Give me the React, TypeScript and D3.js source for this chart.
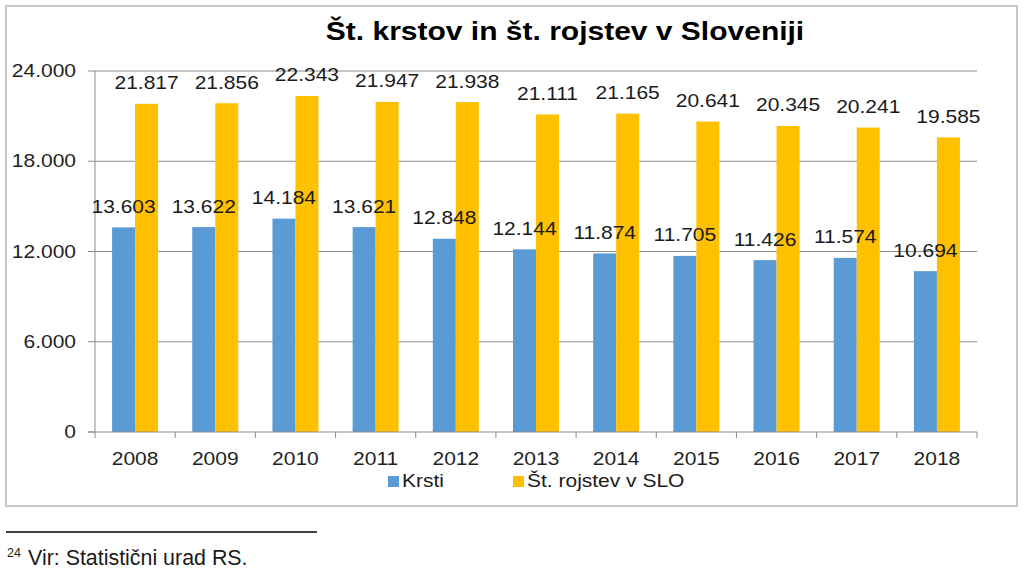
import React from "react";
import * as d3 from "d3";

const years = ["2008", "2009", "2010", "2011", "2012", "2013", "2014", "2015", "2016", "2017", "2018"];
const krsti = [13603, 13622, 14184, 13621, 12848, 12144, 11874, 11705, 11426, 11574, 10694];
const rojstva = [21817, 21856, 22343, 21947, 21938, 21111, 21165, 20641, 20345, 20241, 19585];
const seriesNames = ["Krsti", "Št. rojstev v SLO"];
const seriesColors = ["#5b9bd5", "#ffc000"];
const yTicks = [0, 6000, 12000, 18000, 24000];

const W = 1024;
const H = 581;
const FONT = "'Liberation Sans', Arial, sans-serif";
const SX = 1.2;

const fmt = (v: number) => (v === 0 ? "0" : d3.format(",")(v).replace(/,/g, "."));

function T(props: { x: number; y: number; size: number; anchor?: string; weight?: string; fill?: string; children: React.ReactNode; sx?: number }) {
  const { x, y, size, anchor = "start", weight = "normal", fill = "#1a1a1a", children, sx = SX } = props;
  return (
    <text
      transform={`translate(${x},${y}) scale(${sx},1)`}
      fontFamily={FONT}
      fontSize={size}
      fontWeight={weight}
      textAnchor={anchor as any}
      fill={fill}
    >
      {children}
    </text>
  );
}

export default function App() {
  const left = 95;
  const right = 977;
  const top = 71;
  const bottom = 432;

  const x0 = d3.scaleBand<string>().domain(years).range([left, right]).paddingInner(0.4263).paddingOuter(0.2131);
  const x1 = d3.scaleBand<number>().domain([0, 1]).range([0, x0.bandwidth()]);
  const y = d3.scaleLinear().domain([0, 24000]).range([bottom, top]);
  const step = x0.step();

  const data = [krsti, rojstva];

  return (
    <svg width={W} height={H} style={{ position: "absolute", left: 0, top: 0, display: "block", background: "#fff" }}>
      <rect x={0} y={0} width={W} height={H} fill="#fff" />
      <rect x={6} y={6} width={1011} height={500} fill="#fff" stroke="#c6c6c6" strokeWidth={2} />

      <T x={565} y={40} size={25} weight="bold" anchor="middle" fill="#000">
        Št. krstov in št. rojstev v Sloveniji
      </T>

      {/* gridlines */}
      {yTicks.map((t) => (
        <g key={t}>
          {t > 0 && <line x1={left} x2={right} y1={y(t)} y2={y(t)} stroke="#8c8c8c" strokeWidth={1} />}
          <line x1={88} x2={left} y1={y(t)} y2={y(t)} stroke="#8c8c8c" strokeWidth={1} />
          <T x={76} y={y(t) + 6} size={17.5} anchor="end" fill="#1f1f1f">
            {fmt(t)}
          </T>
        </g>
      ))}

      {/* bars */}
      {data.map((arr, si) =>
        arr.map((v, i) => (
          <rect
            key={`${si}-${i}`}
            x={(x0(years[i]) as number) + (x1(si) as number)}
            y={y(v)}
            width={x1.bandwidth()}
            height={y(0) - y(v)}
            fill={seriesColors[si]}
          />
        ))
      )}

      {/* axes */}
      <line x1={left} x2={left} y1={top} y2={bottom} stroke="#8c8c8c" strokeWidth={1} />
      <line x1={left - 7} x2={right} y1={bottom} y2={bottom} stroke="#8c8c8c" strokeWidth={1} />
      {d3.range(years.length + 1).map((k) => (
        <line key={k} x1={left + k * step} x2={left + k * step} y1={bottom} y2={bottom + 6} stroke="#8c8c8c" strokeWidth={1} />
      ))}
      {years.map((yr) => (
        <T key={yr} x={(x0(yr) as number) + x0.bandwidth() / 2} y={465} size={17.5} anchor="middle" fill="#1f1f1f">
          {yr}
        </T>
      ))}

      {/* data labels */}
      {data.map((arr, si) =>
        arr.map((v, i) => (
          <T
            key={`l-${si}-${i}`}
            x={(x0(years[i]) as number) + (x1(si) as number) + x1.bandwidth() / 2}
            y={y(v) - 14.5}
            size={17.5}
            anchor="middle"
            fill="#1a1a1a"
          >
            {fmt(v)}
          </T>
        ))
      )}

      {/* legend */}
      <rect x={388} y={476} width={11} height={11} fill={seriesColors[0]} />
      <T x={402} y={487} size={17.5}>
        {seriesNames[0]}
      </T>
      <rect x={513} y={476} width={11} height={11} fill={seriesColors[1]} />
      <T x={527} y={487} size={17.5}>
        {seriesNames[1]}
      </T>

      {/* footnote */}
      <line x1={6} x2={317} y1={532} y2={532} stroke="#000" strokeWidth={1.3} />
      <T x={7} y={557} size={12.5} sx={1}>
        24
      </T>
      <T x={28} y={565} size={21.4} sx={1}>
        Vir: Statistični urad RS.
      </T>
    </svg>
  );
}
